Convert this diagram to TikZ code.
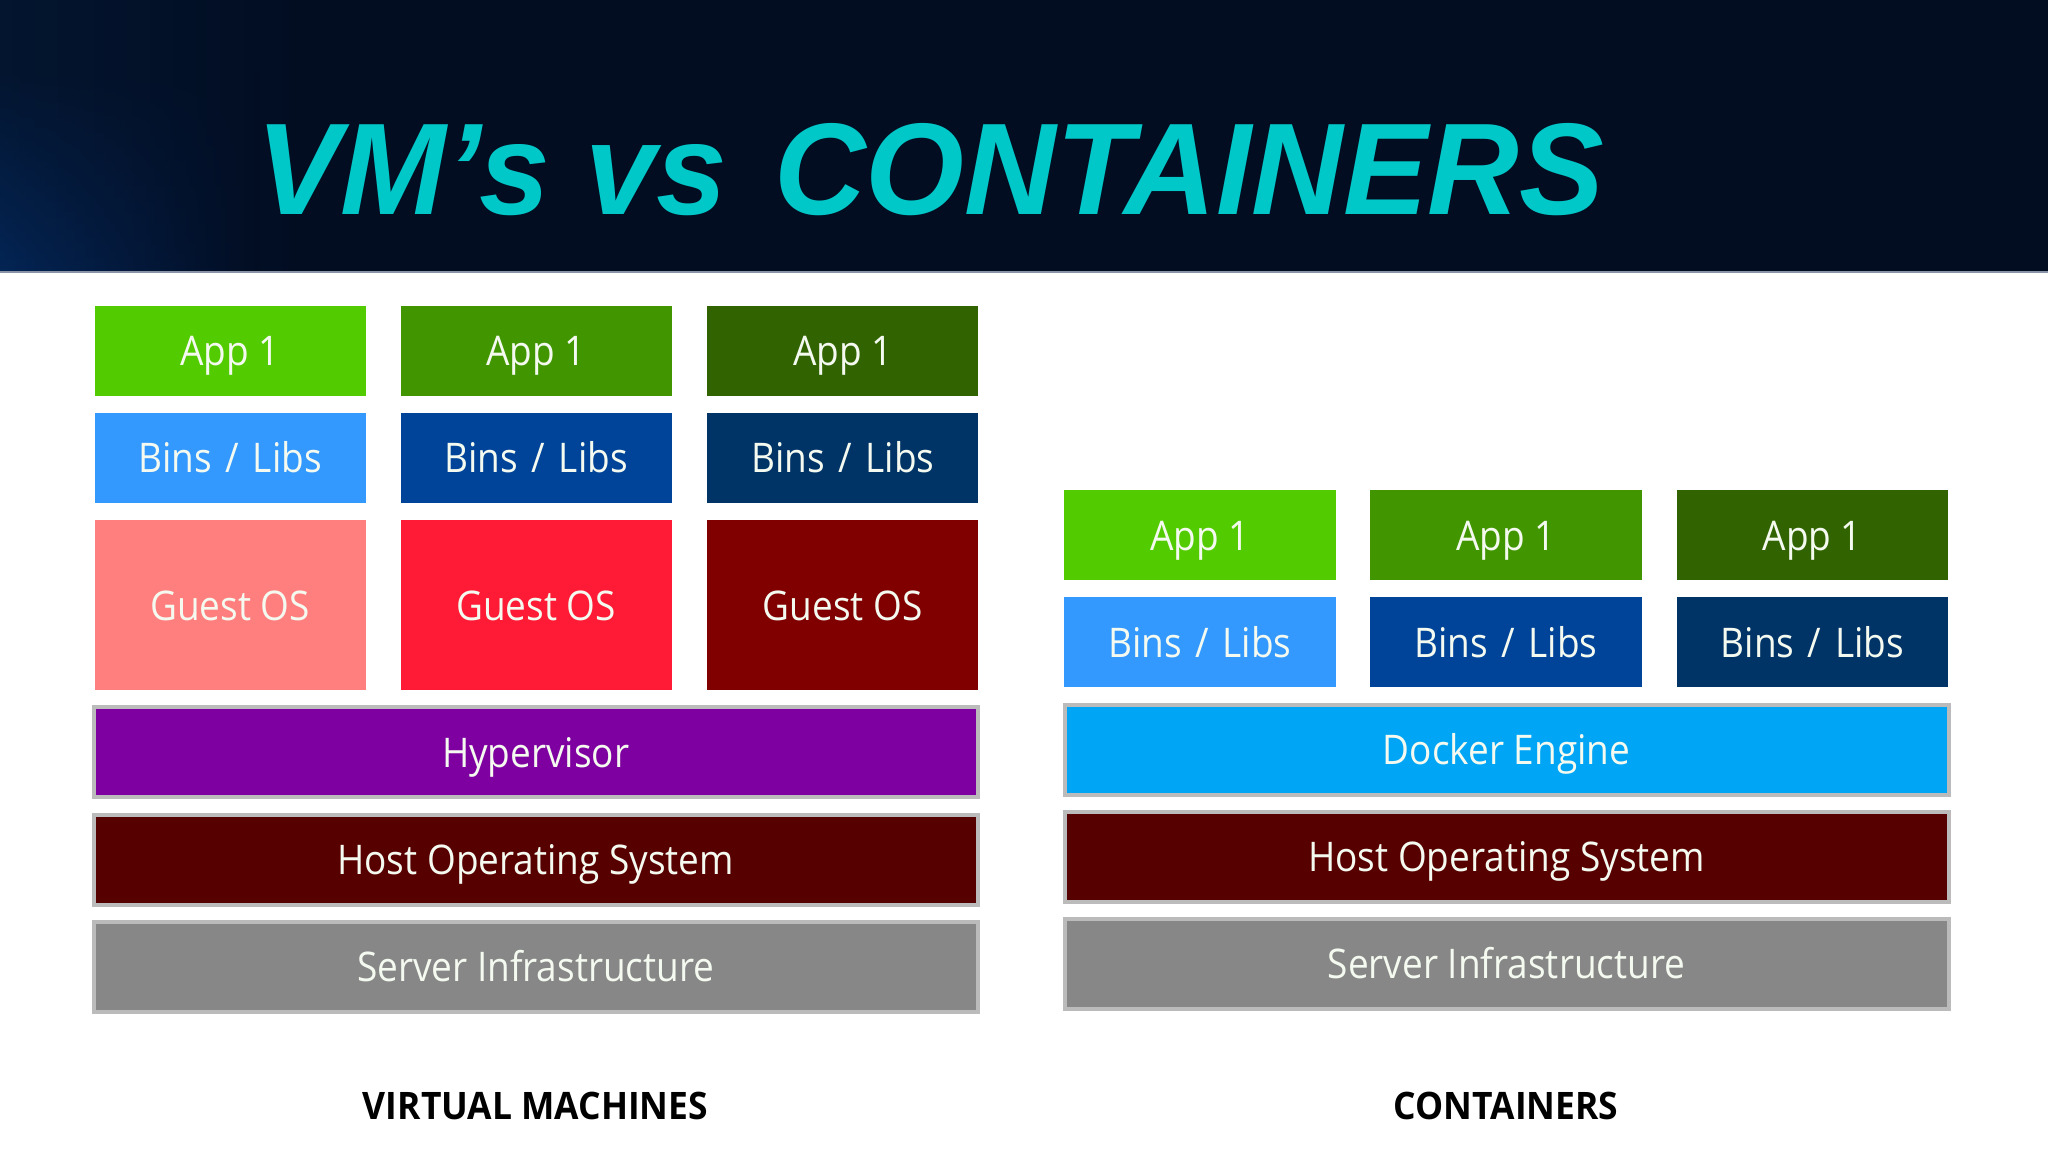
\documentclass[tikz,border=0pt]{standalone}
\usepackage{fontspec}
\setmainfont[FakeStretch=0.973]{Liberation Sans}
\newfontfamily\boxfont[FakeStretch=0.905]{Open Sans}
\newfontfamily\capfont[FakeStretch=0.935]{Open Sans}
\usetikzlibrary{fadings}
\definecolor{barbg}{HTML}{020D22}
\definecolor{barleft}{HTML}{03152F}
\definecolor{glow}{HTML}{04275A}
\definecolor{barline}{HTML}{8A93A5}
\definecolor{titlec}{HTML}{00C8C8}
\definecolor{greenA}{HTML}{52CC00}
\definecolor{greenB}{HTML}{419600}
\definecolor{greenC}{HTML}{316400}
\definecolor{blueA}{HTML}{3399FF}
\definecolor{blueB}{HTML}{004499}
\definecolor{blueC}{HTML}{003366}
\definecolor{redA}{HTML}{FF7F7F}
\definecolor{redB}{HTML}{FF1A35}
\definecolor{redC}{HTML}{800000}
\definecolor{purpleL}{HTML}{7F00A0}
\definecolor{hostL}{HTML}{570000}
\definecolor{grayL}{HTML}{878787}
\definecolor{dockerL}{HTML}{00A6F5}
\definecolor{edgeL}{HTML}{BBBBBB}
\definecolor{boxtext}{HTML}{F4FAF0}
\tikzfading[name=fadeup, bottom color=transparent!0, top color=transparent!100]
\tikzset{
  x=1bp, y=-1bp,
  cell/.style={inner sep=0pt, outer sep=0pt, minimum width=271.2bp, text=boxtext,
    font=\boxfont\fontsize{41}{41}\selectfont, text height=30bp, text depth=0bp, align=center},
  approw/.style={cell, minimum height=90bp},
  binrow/.style={cell, minimum height=90bp},
  guestrow/.style={cell, minimum height=170bp},
  layerbox/.style={cell, draw=edgeL, line width=4bp, minimum height=90bp, minimum width=884bp},
  caption/.style={inner sep=0pt, outer sep=0pt, text=black,
    font=\capfont\bfseries\fontsize{38}{38}\selectfont, text height=29bp, text depth=0bp},
}
\newcommand{\binstext}{Bins\hspace{4bp} /\hspace{4bp} Libs}
\begin{document}
\begin{tikzpicture}
\useasboundingbox (0,0) rectangle (2048,1152);
\fill[white] (0,0) rectangle (2048,1152);
% title band
\fill[barbg] (0,0) rectangle (2048,272);
\shade[left color=barleft, right color=barbg] (0,0) rectangle (300,272);
\begin{scope}
\clip (0,0) rectangle (2048,272);
\shade[left color=glow, middle color=glow!70!barbg, right color=barbg, path fading=fadeup] (0,70) rectangle (260,300);
\end{scope}
\fill[barline] (0,271.4) rectangle (2048,272.6);
\node[anchor=base west, inner sep=0pt, text=titlec, font=\bfseries\itshape\fontsize{131}{131}\selectfont] (title) at (256,214) {VM’s vs\hspace{12bp} CONTAINERS};
% virtual machines
\node[approw, fill=greenA] (vapp1) at (230.2,350.6) {App 1};
\node[approw, fill=greenB] (vapp2) at (536.2,350.6) {App 1};
\node[approw, fill=greenC] (vapp3) at (842.8,350.6) {App 1};
\node[binrow, fill=blueA] (vbin1) at (230.2,457.8) {\binstext};
\node[binrow, fill=blueB] (vbin2) at (536.2,457.8) {\binstext};
\node[binrow, fill=blueC] (vbin3) at (842.8,457.8) {\binstext};
\node[guestrow, fill=redA] (vguest1) at (230.2,605) {Guest OS};
\node[guestrow, fill=redB] (vguest2) at (536.2,605) {Guest OS};
\node[guestrow, fill=redC] (vguest3) at (842.8,605) {Guest OS};
\node[layerbox, fill=purpleL] (vhyp) at (535.7,752) {Hypervisor};
\node[layerbox, fill=hostL] (vhost) at (535.7,859.5) {Host Operating System};
\node[layerbox, fill=grayL] (vserver) at (535.7,966.5) {Server Infrastructure};
\node[caption] (vcap) at (535.5,1105) {VIRTUAL MACHINES};
% containers
\node[approw, fill=greenA] (capp1) at (1200,535) {App 1};
\node[approw, fill=greenB] (capp2) at (1506,535) {App 1};
\node[approw, fill=greenC] (capp3) at (1812.3,535) {App 1};
\node[binrow, fill=blueA] (cbin1) at (1200,642) {\binstext};
\node[binrow, fill=blueB] (cbin2) at (1506,642) {\binstext};
\node[binrow, fill=blueC] (cbin3) at (1812.3,642) {\binstext};
\node[layerbox, fill=dockerL] (cdock) at (1506.5,749.5) {Docker Engine};
\node[layerbox, fill=hostL] (chost) at (1506.5,856.5) {Host Operating System};
\node[layerbox, fill=grayL] (cserver) at (1506.5,963.5) {Server Infrastructure};
\node[caption] (ccap) at (1506,1105) {CONTAINERS};
\end{tikzpicture}
\end{document}
